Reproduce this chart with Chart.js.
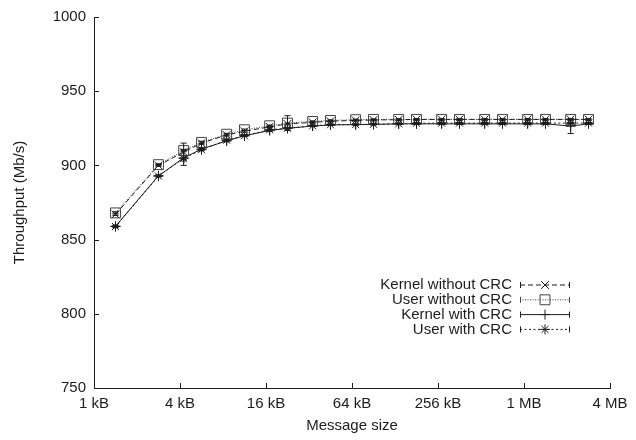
<!DOCTYPE html>
<html>
<head>
<meta charset="utf-8">
<script src="https://cdn.jsdelivr.net/npm/chart.js@4.4.1/dist/chart.umd.min.js"></script>
<style>
  html, body { margin: 0; padding: 0; background: #fff; }
  #wrap { width: 636px; height: 440px; }
</style>
</head>
<body>
<div id="wrap"><canvas id="tput"></canvas></div>
<script>
// message sizes in kB (multiples of a 1448-byte segment)
const sizesKB = [1.414, 2.828, 4.242, 5.656, 8.484, 11.31, 16.97, 22.63, 33.94, 45.25, 67.88,
                 90.5, 135.8, 181, 271.5, 362, 543, 724, 1086, 1448, 2172, 2896];

const seriesNames = ['Kernel without CRC', 'User without CRC', 'Kernel with CRC', 'User with CRC'];

const kernelNoCrc = [867, 900, 909, 915, 920.5, 923, 926, 928, 929, 929.8, 930.3, 930.6, 930.8, 931, 931, 931, 931, 931, 931, 931, 931, 931];
const userNoCrc   = [868, 900.5, 910, 915.5, 921, 924, 926.7, 928.5, 929.6, 930.3, 930.8, 931, 931, 931, 931, 931, 931, 931, 931, 931, 931, 931];
const kernelCrc   = [859, 893, 905, 911, 916.5, 920, 923.5, 925, 926.5, 927.3, 927.5, 927.6, 928, 928, 928, 928, 928, 928, 928, 928, 926.5, 928];
const userCrc     = [858.8, 892.8, 904.8, 910.6, 917, 920, 924, 925, 926.7, 927.4, 927.5, 927.7, 928, 928.4, 928.5, 928.5, 928.5, 928.5, 928.5, 928.5, 928.5, 928.5];

// half-width of the error bars
const kernelNoCrcErr = [0.8, 0.6, 6, 0.8, 0.6, 0.5, 0.5, 0.5, 0.4, 0.4, 0.4, 0.4, 0.4, 0.4, 0.4, 0.4, 0.4, 0.4, 0.4, 0.4, 0.4, 0.4];
const userNoCrcErr   = [0.8, 0.6, 0.8, 0.8, 0.6, 0.5, 0.5, 5, 0.4, 0.4, 0.4, 0.4, 0.4, 0.4, 0.4, 0.4, 0.4, 0.4, 0.4, 0.4, 0.4, 0.4];
const kernelCrcErr   = [0.8, 0.6, 5, 0.8, 0.6, 0.5, 0.5, 0.5, 0.4, 0.4, 0.4, 0.4, 0.4, 0.4, 0.4, 0.4, 0.4, 0.4, 0.4, 0.4, 5, 0.4];
const userCrcErr     = [0.8, 0.6, 0.8, 0.8, 0.6, 0.5, 0.5, 0.5, 0.4, 0.4, 0.4, 0.4, 0.4, 0.4, 0.4, 0.4, 0.4, 0.4, 0.4, 0.4, 0.4, 0.4];

const xTickValues = [1, 4, 16, 64, 256, 1024, 4096];
const xTickLabels = ['1 kB', '4 kB', '16 kB', '64 kB', '256 kB', '1 MB', '4 MB'];
const yTickValues = [750, 800, 850, 900, 950, 1000];

const FONT = "'Liberation Sans', Arial, Helvetica, sans-serif";
const INK = '#1c1c1c';

const styles = [
    { pointStyle: 'crossRot', radius: 5.5, dash: [5, 3] },
    { pointStyle: 'rect', radius: 7, dash: [1, 1.5] },
    { pointStyle: 'cross', radius: 5, dash: [] },
    { pointStyle: 'star', radius: 5, dash: [2, 2.5] }
];
const allValues = [kernelNoCrc, userNoCrc, kernelCrc, userCrc];
const allErrors = [kernelNoCrcErr, userNoCrcErr, kernelCrcErr, userCrcErr];

function makeDataset(i) {
    return {
        label: seriesNames[i],
        data: sizesKB.map((s, k) => ({ x: s, y: allValues[i][k] })),
        borderColor: i === 1 ? '#444' : INK,
        borderWidth: 1,
        borderDash: styles[i].dash,
        pointStyle: styles[i].pointStyle,
        pointRadius: styles[i].radius,
        pointBorderColor: i === 1 ? '#444' : INK,
        pointBackgroundColor: 'rgba(0,0,0,0)',
        pointBorderWidth: 1,
        tension: 0,
        fill: false
    };
}

// vertical error bars with small caps
const errorBars = {
    id: 'errorBars',
    afterDatasetsDraw(chart) {
        const ctx = chart.ctx;
        const xs = chart.scales.x, ys = chart.scales.y;
        ctx.save();
        ctx.strokeStyle = INK;
        ctx.lineWidth = 1;
        allErrors.forEach((errs, i) => {
            errs.forEach((e, k) => {
                const px = xs.getPixelForValue(sizesKB[k]);
                const top = ys.getPixelForValue(allValues[i][k] + e);
                const bot = ys.getPixelForValue(allValues[i][k] - e);
                ctx.beginPath();
                ctx.moveTo(px, top); ctx.lineTo(px, bot);
                ctx.moveTo(px - 3, top); ctx.lineTo(px + 3, top);
                ctx.moveTo(px - 3, bot); ctx.lineTo(px + 3, bot);
                ctx.stroke();
            });
        });
        ctx.restore();
    }
};

// gnuplot style inward ticks
const inwardTicks = {
    id: 'inwardTicks',
    afterDraw(chart) {
        const ctx = chart.ctx;
        const area = chart.chartArea;
        ctx.save();
        ctx.strokeStyle = INK;
        ctx.lineWidth = 1;
        ctx.beginPath();
        xTickValues.forEach(v => {
            const px = Math.round(chart.scales.x.getPixelForValue(v)) + 0.5;
            ctx.moveTo(px, area.bottom); ctx.lineTo(px, area.bottom - 5);
        });
        yTickValues.forEach(v => {
            const py = Math.round(chart.scales.y.getPixelForValue(v)) + 0.5;
            ctx.moveTo(area.left, py); ctx.lineTo(area.left + 5, py);
        });
        ctx.stroke();
        ctx.restore();
    }
};

// legend: text right aligned, sample line with caps on the right
const keyBox = {
    id: 'keyBox',
    afterDraw(chart) {
        const ctx = chart.ctx;
        ctx.save();
        ctx.font = '15px ' + FONT;
        ctx.textAlign = 'right';
        ctx.textBaseline = 'middle';
        seriesNames.forEach((name, i) => {
            const y = 285 + i * 14.8;
            ctx.fillStyle = INK;
            ctx.fillText(name, 512, y);
            const col = i === 1 ? '#444' : INK;
            ctx.strokeStyle = col;
            ctx.lineWidth = 1;
            ctx.setLineDash(styles[i].dash);
            ctx.beginPath();
            ctx.moveTo(520, y); ctx.lineTo(570, y);
            ctx.stroke();
            ctx.setLineDash([]);
            ctx.beginPath();
            ctx.moveTo(520.5, y - 3); ctx.lineTo(520.5, y + 3);
            ctx.moveTo(569.5, y - 3); ctx.lineTo(569.5, y + 3);
            ctx.stroke();
            ctx.fillStyle = 'rgba(0,0,0,0)';
            Chart.helpers.drawPoint(ctx, {
                pointStyle: styles[i].pointStyle,
                radius: styles[i].radius,
                rotation: 0,
                borderWidth: 1
            }, 545, y);
        });
        ctx.restore();
    }
};

new Chart(document.getElementById('tput'), {
    type: 'line',
    data: { datasets: [0, 1, 2, 3].map(makeDataset) },
    options: {
        responsive: true,
        maintainAspectRatio: false,
        animation: false,
        layout: { padding: { left: 0, top: 14, right: 26, bottom: 0 } },
        plugins: {
            legend: { display: false },
            tooltip: { enabled: false }
        },
        scales: {
            x: {
                type: 'logarithmic',
                min: 1,
                max: 4096,
                afterBuildTicks: scale => { scale.ticks = xTickValues.map(v => ({ value: v })); },
                afterFit: scale => { scale.height = 52; },
                ticks: {
                    autoSkip: false,
                    maxRotation: 0,
                    padding: 7,
                    color: INK,
                    font: { family: FONT, size: 15 },
                    callback: (v) => xTickLabels[xTickValues.indexOf(v)]
                },
                grid: { display: false, drawTicks: false },
                border: { display: true, color: INK, width: 1 },
                title: {
                    display: true,
                    text: 'Message size',
                    color: INK,
                    font: { family: FONT, size: 15 },
                    padding: { top: 0, bottom: 5 }
                }
            },
            y: {
                min: 750,
                max: 1000,
                afterBuildTicks: scale => { scale.ticks = yTickValues.map(v => ({ value: v })); },
                afterFit: scale => { scale.width = 94; },
                ticks: {
                    padding: 8,
                    color: INK,
                    font: { family: FONT, size: 15 },
                    callback: (v) => String(v)
                },
                grid: { display: false, drawTicks: false },
                border: { display: true, color: INK, width: 1 },
                title: {
                    display: true,
                    text: 'Throughput (Mb/s)',
                    color: INK,
                    font: { family: FONT, size: 15 },
                    padding: { top: 11, bottom: 0 }
                }
            }
        }
    },
    plugins: [errorBars, inwardTicks, keyBox]
});
</script>
</body>
</html>
